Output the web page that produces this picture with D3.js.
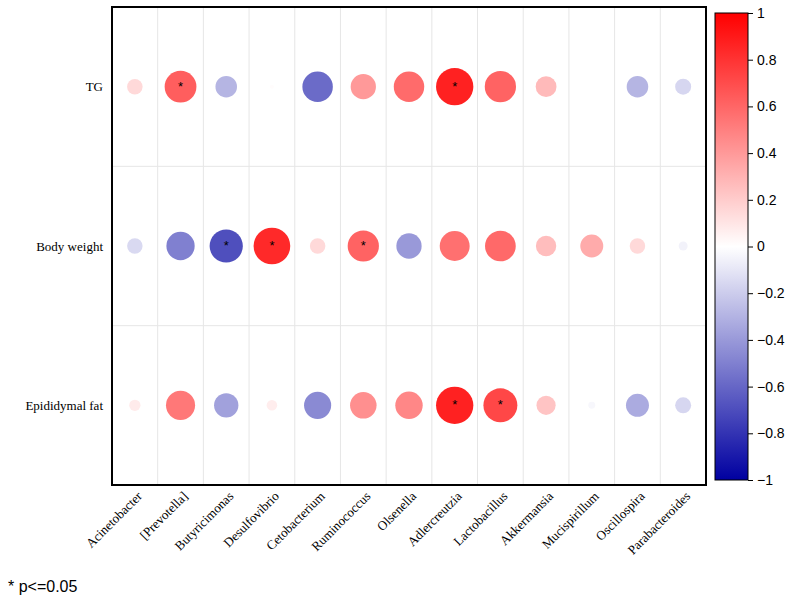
<!DOCTYPE html>
<html>
<head>
<meta charset="utf-8">
<script src="https://cdn.jsdelivr.net/npm/d3@7"></script>
<style>
  body { margin: 0; background: #fff; }
  svg { display: block; }
</style>
</head>
<body>
<div id="chart"></div>
<script>
const genera = ["Acinetobacter", "[Prevotella]", "Butyricimonas", "Desulfovibrio", "Cetobacterium",
    "Ruminococcus", "Olsenella", "Adlercreutzia", "Lactobacillus", "Akkermansia",
    "Mucispirillum", "Oscillospira", "Parabacteroides"];
const traits = ["TG", "Body weight", "Epididymal fat"];

const tgValues = [0.15, 0.63, -0.29, 0.01, -0.58, 0.40, 0.58, 0.87, 0.61, 0.27, 0.0, -0.29, -0.16];
const bwValues = [-0.15, -0.50, -0.69, 0.84, 0.15, 0.61, -0.40, 0.56, 0.59, 0.26, 0.33, 0.15, -0.05];
const efValues = [0.08, 0.53, -0.37, 0.07, -0.46, 0.44, 0.47, 0.87, 0.72, 0.23, -0.03, -0.33, -0.16];

const tgSig = [0, 1, 0, 0, 0, 0, 0, 1, 0, 0, 0, 0, 0];
const bwSig = [0, 0, 1, 1, 0, 1, 0, 0, 0, 0, 0, 0, 0];
const efSig = [0, 0, 0, 0, 0, 0, 0, 1, 1, 0, 0, 0, 0];

const legendTicks = [1, 0.8, 0.6, 0.4, 0.2, 0, -0.2, -0.4, -0.6, -0.8, -1];

const rows = [tgValues, bwValues, efValues];
const sigs = [tgSig, bwSig, efSig];

const cells = [];
traits.forEach((t, i) => {
    genera.forEach((g, j) => {
        cells.push({trait: t, genus: g, value: rows[i][j], sig: sigs[i][j]});
    });
});

const W = 799, H = 603;
const plot = {left: 112, right: 706, top: 7, bottom: 485};

const svg = d3.select("#chart").append("svg")
    .attr("width", W)
    .attr("height", H);

const x = d3.scaleBand()
    .domain(genera)
    .range([plot.left, plot.right]);

const y = d3.scaleBand()
    .domain(traits)
    .range([plot.top, plot.bottom]);

const color = d3.scaleLinear()
    .domain([-1, 0, 1])
    .range(["rgb(0,0,160)", "#ffffff", "#ff0000"]);

const radius = d3.scaleSqrt()
    .domain([0, 1])
    .range([0, 20]);

// grid lines
const grid = svg.append("g");
genera.slice(1).forEach(g => {
    grid.append("line")
        .attr("x1", x(g)).attr("x2", x(g))
        .attr("y1", plot.top).attr("y2", plot.bottom)
        .attr("stroke", "#e6e6e6");
});
traits.slice(1).forEach(t => {
    grid.append("line")
        .attr("x1", plot.left).attr("x2", plot.right)
        .attr("y1", y(t)).attr("y2", y(t))
        .attr("stroke", "#e6e6e6");
});

// bubbles
svg.selectAll(".dot")
    .data(cells)
    .enter().append("circle")
    .attr("class", "dot")
    .attr("cx", d => x(d.genus) + x.bandwidth() / 2)
    .attr("cy", d => y(d.trait) + y.bandwidth() / 2)
    .attr("r", d => radius(Math.abs(d.value)))
    .attr("fill", d => color(d.value));

svg.selectAll(".star")
    .data(cells.filter(d => d.sig))
    .enter().append("text")
    .attr("class", "star")
    .attr("x", d => x(d.genus) + x.bandwidth() / 2)
    .attr("y", d => y(d.trait) + y.bandwidth() / 2 + 4)
    .attr("text-anchor", "middle")
    .attr("font-family", "Liberation Sans, Arial, sans-serif")
    .attr("font-size", 13)
    .attr("fill", "#000")
    .text("*");

// frame
svg.append("rect")
    .attr("x", plot.left)
    .attr("y", plot.top)
    .attr("width", plot.right - plot.left)
    .attr("height", plot.bottom - plot.top)
    .attr("fill", "none")
    .attr("stroke", "#000")
    .attr("stroke-width", 2);

// row labels
svg.selectAll(".ylab")
    .data(traits)
    .enter().append("text")
    .attr("class", "ylab")
    .attr("x", plot.left - 9)
    .attr("y", d => y(d) + y.bandwidth() / 2)
    .attr("dy", "0.35em")
    .attr("text-anchor", "end")
    .attr("font-family", "Liberation Serif, Times New Roman, serif")
    .attr("font-size", 13)
    .text(d => d);

// column labels
svg.selectAll(".xlab")
    .data(genera)
    .enter().append("text")
    .attr("class", "xlab")
    .attr("transform", d => `translate(${x(d) + x.bandwidth() / 2 + 8},${plot.bottom + 12}) rotate(-45)`)
    .attr("text-anchor", "end")
    .attr("font-family", "Liberation Serif, Times New Roman, serif")
    .attr("font-size", 13)
    .text(d => d);

// colour bar
const bar = {x: 715, w: 33, top: 13, bottom: 480};
const defs = svg.append("defs");
const grad = defs.append("linearGradient")
    .attr("id", "cbar")
    .attr("x1", 0).attr("y1", 1)
    .attr("x2", 0).attr("y2", 0);
d3.range(0, 1.0001, 0.05).forEach(t => {
    grad.append("stop")
        .attr("offset", t)
        .attr("stop-color", color(-1 + 2 * t));
});

svg.append("rect")
    .attr("x", bar.x)
    .attr("y", bar.top)
    .attr("width", bar.w)
    .attr("height", bar.bottom - bar.top)
    .attr("fill", "url(#cbar)")
    .attr("stroke", "#000")
    .attr("stroke-width", 1);

const yBar = d3.scaleLinear()
    .domain([-1, 1])
    .range([bar.bottom, bar.top]);

const barAxis = svg.append("g")
    .attr("transform", `translate(${bar.x + bar.w},0)`)
    .call(d3.axisRight(yBar).tickValues(legendTicks).tickSize(5).tickPadding(4)
        .tickFormat(d3.format("")));
barAxis.select(".domain").remove();
barAxis.selectAll("text")
    .attr("font-family", "Liberation Sans, Arial, sans-serif")
    .attr("font-size", 14)
    .attr("fill", "#000");
barAxis.selectAll("line").attr("stroke", "#000");

// footnote
svg.append("text")
    .attr("x", 8)
    .attr("y", 592)
    .attr("font-family", "Liberation Sans, Arial, sans-serif")
    .attr("font-size", 16)
    .text("* p<=0.05");
</script>
</body>
</html>
